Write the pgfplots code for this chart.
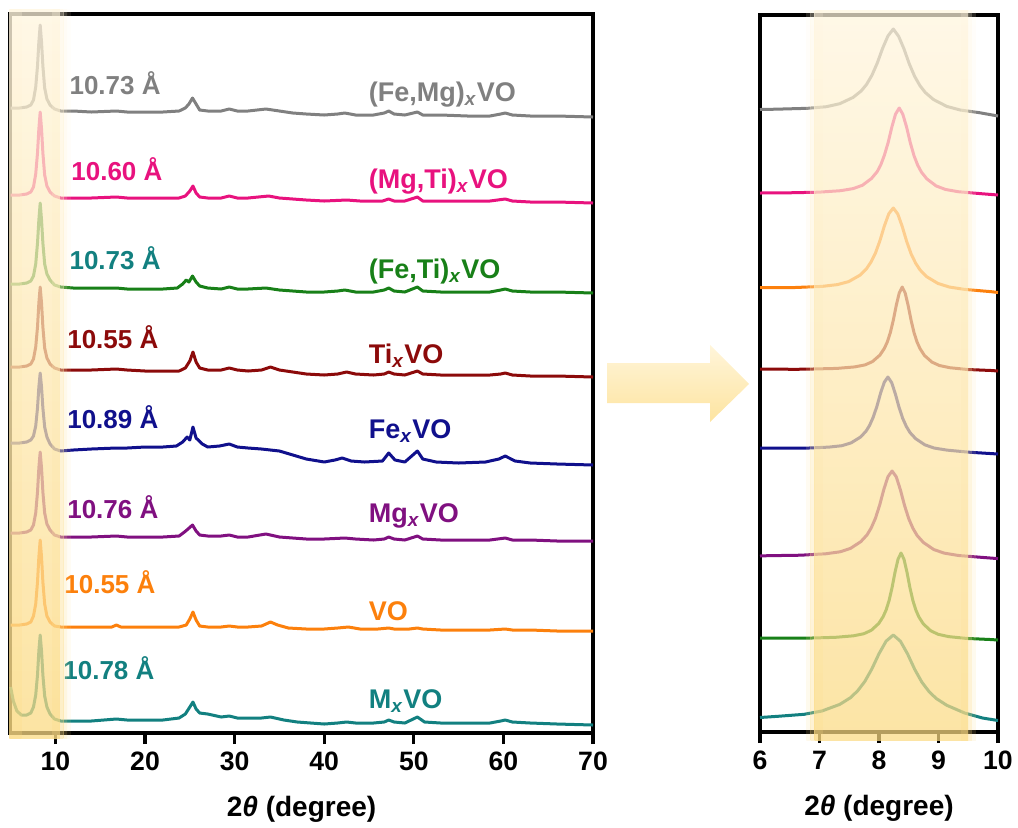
\documentclass[border=0pt]{standalone}
\usepackage{fontspec}
\setmainfont{Liberation Sans}
\usepackage{pgfplots}
\pgfplotsset{compat=1.18}
\definecolor{cGray}{RGB}{128,128,128}
\definecolor{cPink}{RGB}{232,18,126}
\definecolor{cGreen}{RGB}{24,128,24}
\definecolor{cRed}{RGB}{140,10,10}
\definecolor{cNavy}{RGB}{16,16,140}
\definecolor{cPurple}{RGB}{128,16,128}
\definecolor{cOrange}{RGB}{252,128,12}
\definecolor{cTeal}{RGB}{18,128,128}
\definecolor{bandtop}{RGB}{255,245,222}
\definecolor{bandbot}{RGB}{251,218,130}
\definecolor{arrtop}{RGB}{255,245,218}
\definecolor{arrbot}{RGB}{253,228,160}
\newcommand{\dlab}{\bfseries\fontsize{13}{15}\selectfont}
\newcommand{\slab}{\bfseries\fontsize{13.5}{15}\selectfont}
\newcommand{\sx}{\textsubscript{\textit{x}}}
\newcommand{\bandstrip}[3]{\shade[top color=bandtop, bottom color=bandbot, opacity=#3] (#1) rectangle (#2);}
\tikzset{lab/.style={anchor=base west, inner sep=0pt}}
\pgfplotsset{myax/.style={
  scale only axis, y dir=reverse, clip=false,
  line width=1.6pt,
  axis line style={line width=1.6pt, black},
  ytick=\empty, xtick pos=left, tick align=outside,
  major tick length=5.5pt,
  tick style={line width=1.6pt, black},
  tick label style={font=\bfseries\fontsize{13.3}{15}\selectfont},
  /pgf/number format/assume math mode=true,
  xlabel style={font=\bfseries\fontsize{14}{16}\selectfont, at={(axis description cs:0.5,0)}, anchor=center, yshift=-38pt},
  xlabel={2\textit{θ} (degree)},
  every axis plot/.append style={line width=1.5pt, line join=round, mark=none}
}}
\begin{document}
\begin{tikzpicture}[x=1pt,y=1pt]
\useasboundingbox (0,0) rectangle (509,413.5);
% ---------------- left panel ----------------
\begin{axis}[myax, at={(5pt,47pt)}, anchor=south west, width=291.5pt, height=359.5pt,
  xmin=4.93, xmax=70, ymin=14, ymax=733, xtick={10,20,30,40,50,60,70}]
\addplot[cGray] coordinates {(5,108)(6,108)(6.8,107)(7.25,105)(7.55,100)(7.8,87)(8.0,66)(8.15,42)(8.3,25)(8.45,42)(8.6,66)(8.8,88)(9.05,99)(9.4,105)(9.9,109)(10.6,111)(12,111)(14,112)(16.8,111)(18,112)(20,112)(22,112)(23.8,111)(24.5,108)(24.9,104)(25.3,98)(25.7,104)(26.1,110)(27,111)(28.5,111)(29.4,109)(30.3,111)(31.5,111)(33.5,109)(35,111)(36.5,113)(38,114)(40,115)(41.5,114)(42.3,113)(43.5,115)(45.5,115)(46.7,113)(47.2,111)(47.8,114)(49,115)(50.4,112)(51,115)(53,115)(56,116)(58.5,116)(59.7,114)(60.2,113)(61,115)(63,116)(66,116)(70,117)};
\addplot[cPink] coordinates {(5,195)(6,195)(6.8,194)(7.25,192)(7.55,187)(7.8,174)(8.0,153)(8.15,129)(8.3,112)(8.45,129)(8.6,153)(8.8,175)(9.05,186)(9.4,192)(9.9,196)(10.6,198)(12,198)(14,198)(16.8,197)(18,198)(20,198)(22,198)(23.8,198)(24.5,196)(25,191)(25.35,186)(25.7,193)(26.1,197)(27,198)(28.5,198)(29.4,196)(30.3,198)(31.5,198)(33.8,196)(35,198)(36.5,199)(38,200)(40,201)(42.5,200)(44,201)(46.5,201)(47.2,199)(47.8,201)(49,201)(50.4,197)(51,201)(53,201)(56,201)(58.5,201)(60.2,199)(61,201)(63,202)(66,202)(70,203)};
\addplot[cGreen] coordinates {(5,284)(6,284)(6.8,283)(7.25,281)(7.55,276)(7.8,264)(8.0,243)(8.15,220)(8.3,203)(8.45,220)(8.6,243)(8.8,264)(9.05,274)(9.4,280)(9.9,285)(10.6,287)(12,288)(14,288)(16.8,288)(18,289)(20,289)(22,289)(23.6,288)(24.2,284)(24.6,280)(24.9,282)(25.3,276)(25.7,282)(26.1,286)(27,288)(28.5,289)(29.4,287)(30.3,289)(31.5,289)(33.5,288)(35,290)(36.5,291)(38,292)(40,292)(41.5,291)(42.3,290)(43.5,292)(45.5,292)(46.7,290)(47.2,288)(47.8,291)(49,292)(50.4,287)(51,291)(53,292)(56,292)(58.5,292)(59.7,290)(60.2,289)(61,291)(63,292)(66,292)(70,293)};
\addplot[cRed] coordinates {(5,367)(6,367)(6.8,366)(7.25,364)(7.55,359)(7.8,347)(8.0,327)(8.15,303)(8.3,287)(8.45,303)(8.6,327)(8.8,348)(9.05,358)(9.4,364)(9.9,368)(10.6,370)(12,370)(14,370)(16.8,369)(18,370)(20,371)(22,371)(23.8,371)(24.5,368)(25,361)(25.35,352)(25.7,362)(26.1,368)(27,370)(28.5,370)(29.4,368)(30.3,370)(31.5,371)(33,370)(34,367)(35,370)(36.5,372)(38,374)(40,375)(41.5,374)(42.5,372)(43.5,374)(45.5,375)(46.7,374)(47.2,372)(47.8,374)(49,375)(50.4,371)(51,374)(53,375)(56,375)(58.5,375)(59.7,374)(60.2,373)(61,375)(63,376)(66,376)(70,377)};
\addplot[cNavy] coordinates {(5,443)(6,443)(6.8,442)(7.25,440)(7.55,436)(7.8,426)(8.0,408)(8.15,387)(8.3,373)(8.45,387)(8.6,408)(8.8,427)(9.05,437)(9.4,444)(9.9,449)(10.6,451)(12,450)(14,449)(16.8,448)(18,448)(20,447)(22,447)(23.5,446)(24.2,442)(24.7,437)(25,440)(25.35,427)(25.7,438)(26.4,444)(27,447)(28.3,446)(29.4,444)(30.3,447)(31.5,448)(33,449)(35,451)(36.5,455)(38,459)(40,462)(41.2,460)(42,458)(43,461)(44.5,462)(46.5,461)(47.2,453)(47.9,460)(49,462)(50.4,451)(51,459)(52.5,462)(55,463)(58,462)(59.5,459)(60.2,456)(61.3,461)(63,463)(66,464)(70,465)};
\addplot[cPurple] coordinates {(5,533)(6,533)(6.8,532)(7.25,530)(7.55,525)(7.8,513)(8.0,492)(8.15,468)(8.3,452)(8.45,468)(8.6,492)(8.8,513)(9.05,524)(9.4,530)(9.9,535)(10.6,537)(12,537)(14,537)(16.8,536)(18,537)(20,537)(22,537)(23.8,536)(24.4,532)(24.8,529)(25.3,525)(25.7,531)(26.1,535)(27,536)(28.5,536)(29.4,535)(30.3,537)(31.5,537)(33.5,534)(35,537)(36.5,538)(38,539)(40,539)(42.3,538)(43.5,539)(45.5,540)(46.7,539)(47.2,537)(47.8,539)(49,540)(50.4,536)(51,539)(53,540)(56,540)(58.5,540)(60.2,538)(61,540)(63,540)(66,541)(70,541)};
\addplot[cOrange] coordinates {(5,625)(6,625)(6.8,624)(7.25,622)(7.55,616)(7.8,604)(8.0,582)(8.15,557)(8.3,540)(8.45,557)(8.6,582)(8.8,604)(9.05,616)(9.4,622)(9.9,626)(10.6,627)(12,627)(14,627)(16.3,627)(16.8,625)(17.3,627)(20,627)(22,627)(23.8,627)(24.6,625)(25,619)(25.35,612)(25.7,620)(26.1,626)(27,627)(28.5,627)(29.4,626)(30.3,627)(31.5,627)(33,626)(34,622)(34.8,625)(36,628)(38,629)(40,629)(41.5,628)(42.7,627)(44,629)(46,629)(47.2,628)(47.8,629)(49.5,629)(50.4,628)(51,629)(53,630)(56,630)(58.5,630)(60.2,629)(61,630)(63,630)(66,631)(70,631)};
\addplot[cTeal] coordinates {(5,687)(5.3,701)(5.7,711)(6.2,715)(6.8,715)(7.25,713)(7.55,707)(7.8,695)(8.0,675)(8.15,651)(8.3,635)(8.45,651)(8.6,675)(8.8,696)(9.05,707)(9.4,714)(9.9,719)(10.6,721)(12,721)(14,721)(16.8,719)(18,720)(20,720)(22,720)(23.8,718)(24.5,714)(25,707)(25.35,702)(25.7,709)(26.1,713)(27,714)(28.5,717)(29.4,716)(30.3,718)(31.5,718)(33,718)(34,717)(35.5,720)(37,722)(38.5,723)(40,724)(41.5,723)(42.5,722)(43.5,723)(45.5,723)(46.7,722)(47.2,720)(47.8,722)(49,723)(50.4,717)(51.2,722)(53,723)(56,723)(58.5,723)(59.7,721)(60.2,720)(61,722)(63,723)(66,724)(70,725)};
% labels
\node[lab, text=cGray, font=\dlab] at (axis cs:11.4,94) {10.73 Å};
\node[lab, text=cPink, font=\dlab] at (axis cs:11.6,180) {10.60 Å};
\node[lab, text=cTeal, font=\dlab] at (axis cs:11.4,269) {10.73 Å};
\node[lab, text=cRed, font=\dlab] at (axis cs:11.15,348) {10.55 Å};
\node[lab, text=cNavy, font=\dlab] at (axis cs:11.15,428) {10.89 Å};
\node[lab, text=cPurple, font=\dlab] at (axis cs:11.15,518) {10.76 Å};
\node[lab, text=cOrange, font=\dlab] at (axis cs:10.82,593) {10.55 Å};
\node[lab, text=cTeal, font=\dlab] at (axis cs:10.71,679) {10.78 Å};
\node[lab, text=cGray, font=\slab] at (axis cs:44.8,101) {(Fe,Mg)\sx VO};
\node[lab, text=cPink, font=\slab] at (axis cs:44.8,188) {(Mg,Ti)\sx VO};
\node[lab, text=cGreen, font=\slab] at (axis cs:44.8,278) {(Fe,Ti)\sx VO};
\node[lab, text=cRed, font=\slab] at (axis cs:44.8,363) {Ti\sx VO};
\node[lab, text=cNavy, font=\slab] at (axis cs:44.8,438) {Fe\sx VO};
\node[lab, text=cPurple, font=\slab] at (axis cs:44.8,522) {Mg\sx VO};
\node[lab, text=cOrange, font=\slab] at (axis cs:44.8,620) {VO};
\node[lab, text=cTeal, font=\slab] at (axis cs:44.8,708) {M\sx VO};
\coordinate (L0t) at (axis cs:4.85,10);
\coordinate (L1b) at (axis cs:6.2,738);
\coordinate (L2t) at (axis cs:9.7,10);
\coordinate (L3b) at (axis cs:10.5,738);
\coordinate (L3t) at (axis cs:10.5,10);
\coordinate (L4b) at (axis cs:10.9,738);
\coordinate (L4t) at (axis cs:10.9,10);
\coordinate (L5b) at (axis cs:11.3,738);
\coordinate (L5t) at (axis cs:11.3,10);
\coordinate (L6b) at (axis cs:11.7,738);
\end{axis}
\bandstrip{L0t}{L3b}{0.74}
\bandstrip{L0t}{L1b}{0.25}
\bandstrip{L2t}{L3b}{0.25}
\bandstrip{L3t}{L4b}{0.45}
\bandstrip{L4t}{L5b}{0.25}
\bandstrip{L5t}{L6b}{0.1}
% ---------------- arrow ----------------
\shade[top color=arrtop, bottom color=arrbot] (303.5,232) -- (355,232) -- (355,241) -- (374.5,221.5) -- (355,202.5) -- (355,212) -- (303.5,212) -- cycle;
% ---------------- right panel ----------------
\begin{axis}[myax, at={(380pt,47.5pt)}, anchor=south west, width=119pt, height=358.5pt,
  xmin=6, xmax=10, ymin=15, ymax=732, xtick={6,7,8,9,10}]
\addplot[cGray] coordinates {(6,109.5)(6.26,109.2)(6.8,108.3)(7.115,106.7)(7.34,103.7)(7.565,97.4)(7.7,91)(7.79,84.5)(7.88,75.4)(7.97,63.2)(8.06,48.4)(8.15,36)(8.24,29)(8.33,36.3)(8.42,48.9)(8.51,64)(8.6,76.5)(8.69,85.8)(8.78,92.6)(8.915,99.5)(9.14,106.4)(9.365,110)(9.68,112.6)(10,116)};
\addplot[cPink] coordinates {(6,193)(6.48,192.8)(6.976,192.2)(7.35,190.7)(7.565,188.6)(7.72,185.3)(7.875,178.4)(7.97,171.6)(8.03,164.8)(8.09,155.3)(8.154,142.5)(8.216,127)(8.278,114.1)(8.34,108)(8.40,114.2)(8.464,127.1)(8.526,142.7)(8.588,155.6)(8.65,165.1)(8.712,172)(8.805,178.9)(8.96,185.9)(9.115,189.4)(9.33,191.7)(9.7,193.6)(10,195)};
\addplot[cOrange] coordinates {(6,287.6)(6.59,287.5)(7.04,286.4)(7.30,284.6)(7.49,281.6)(7.68,275.2)(7.79,268.7)(7.865,262.1)(7.94,253.1)(8.015,240.8)(8.09,226)(8.165,213.7)(8.24,208)(8.315,213.9)(8.39,226.4)(8.465,241.4)(8.54,253.9)(8.615,263.1)(8.69,269.9)(8.80,276.6)(8.99,283.4)(9.18,287)(9.44,289.4)(9.89,291.7)(10,292.5)};
\addplot[cRed] coordinates {(6,369)(6.6,369.3)(6.89,369)(7.29,368.4)(7.59,366.9)(7.765,364.9)(7.89,361.6)(8.015,355.1)(8.09,348.4)(8.14,341.9)(8.19,332.7)(8.24,320.3)(8.29,305.4)(8.34,293)(8.39,287)(8.44,293)(8.49,305.5)(8.54,320.5)(8.59,332.9)(8.64,342.1)(8.69,348.7)(8.765,355.5)(8.89,362.1)(9.015,365.5)(9.19,367.7)(9.49,369.5)(9.89,370.5)(10,371)};
\addplot[cNavy] coordinates {(6,448)(6.29,448)(6.786,448.1)(7.158,447.1)(7.375,445.7)(7.53,442.9)(7.685,437.2)(7.778,431.5)(7.84,425.6)(7.90,417.6)(7.964,406.5)(8.026,393.3)(8.088,382.3)(8.15,377)(8.212,382.5)(8.274,393.7)(8.336,407.1)(8.398,418.3)(8.46,426.5)(8.522,432.6)(8.615,438.6)(8.77,444.8)(8.925,448)(9.142,450.1)(9.514,452.2)(10,454)};
\addplot[cPurple] coordinates {(6,556)(6.12,555.7)(6.68,555.2)(7.10,553.8)(7.345,551.8)(7.52,548.4)(7.695,541.6)(7.80,534.8)(7.87,527.8)(7.94,518.3)(8.01,505.3)(8.08,489.7)(8.15,476.7)(8.22,471)(8.29,476.8)(8.36,489.9)(8.43,505.6)(8.50,518.7)(8.57,528.3)(8.64,535.4)(8.745,542.4)(8.92,549.5)(9.095,553.1)(9.34,555.5)(9.76,557.5)(10,558.6)};
\addplot[cGreen] coordinates {(6,638)(6.5,638.2)(6.87,638)(7.27,637.3)(7.57,635.8)(7.745,633.7)(7.87,630.3)(7.995,623.5)(8.07,616.6)(8.12,609.9)(8.17,600.4)(8.22,587.5)(8.27,572)(8.32,559.2)(8.37,553)(8.42,559.2)(8.47,572.1)(8.52,587.7)(8.57,600.6)(8.62,610.1)(8.67,616.9)(8.745,623.9)(8.87,630.8)(8.995,634.3)(9.17,636.6)(9.47,638.4)(9.87,639.5)(10,640)};
\addplot[cTeal] coordinates {(6,717.5)(6.32,716.2)(6.74,714.3)(7.04,711)(7.34,704.4)(7.52,697.7)(7.64,690.9)(7.76,681.6)(7.88,668.9)(8.00,653.7)(8.12,641.1)(8.24,635)(8.36,641.2)(8.48,653.9)(8.60,669.3)(8.72,682.1)(8.84,691.5)(8.96,698.4)(9.14,705.3)(9.44,713)(9.74,718)(10,720.5)};
\coordinate (R0t) at (axis cs:6.78,11);
\coordinate (R1b) at (axis cs:6.85,740);
\coordinate (R1t) at (axis cs:6.85,11);
\coordinate (R2b) at (axis cs:6.92,740);
\coordinate (R2t) at (axis cs:6.92,11);
\coordinate (R3b) at (axis cs:7.05,740);
\coordinate (R4t) at (axis cs:9.38,11);
\coordinate (R5b) at (axis cs:9.5,740);
\coordinate (R5t) at (axis cs:9.5,11);
\coordinate (R6b) at (axis cs:9.56,740);
\coordinate (R6t) at (axis cs:9.56,11);
\coordinate (R7b) at (axis cs:9.63,740);
\end{axis}
\bandstrip{R0t}{R1b}{0.15}
\bandstrip{R1t}{R2b}{0.35}
\bandstrip{R2t}{R5b}{0.72}
\bandstrip{R2t}{R3b}{0.2}
\bandstrip{R4t}{R5b}{0.2}
\bandstrip{R5t}{R6b}{0.35}
\bandstrip{R6t}{R7b}{0.15}
\end{tikzpicture}
\end{document}
